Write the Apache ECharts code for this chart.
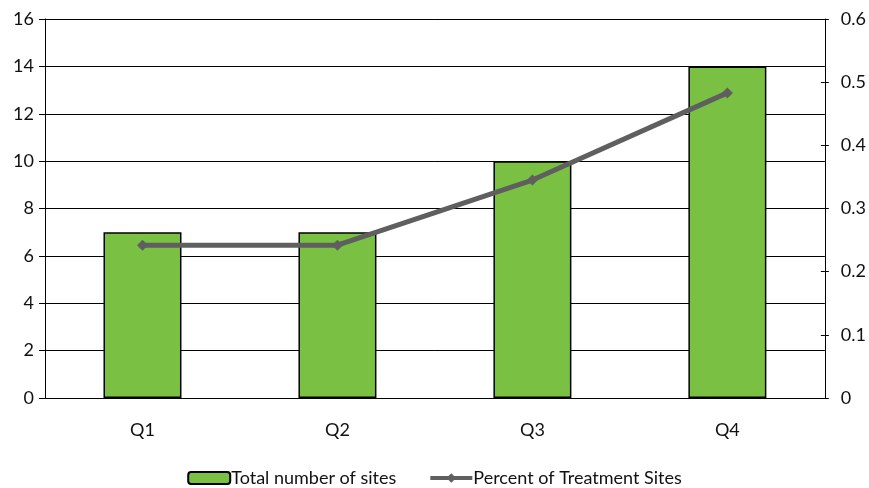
<!DOCTYPE html>
<html>
<head>
<meta charset="utf-8">
<script src="https://cdn.jsdelivr.net/npm/echarts@6/dist/echarts.min.js"></script>
<style>
  html, body { margin: 0; padding: 0; background: #fff; }
  #chart { width: 869px; height: 488px; }
</style>
</head>
<body>
<div id="chart"></div>
<script>
// Quarterly site counts and treatment share
const quarters = ['Q1', 'Q2', 'Q3', 'Q4'];
const totalSites = [7, 7, 10, 14];
const percentTreatment = [0.242, 0.242, 0.345, 0.483];

const FONT = 'Lato, "DejaVu Sans", sans-serif';
const labelStyle = { color: '#111', fontSize: 18, fontFamily: FONT };

const chart = echarts.init(document.getElementById('chart'));
chart.setOption({
  animation: false,
  grid: { left: 45, right: 43, top: 19, bottom: 90, containLabel: false },
  legend: {
    top: 464,
    left: 'center',
    itemGap: 32,
    itemWidth: 42,
    itemHeight: 12,
    textStyle: { color: '#111', fontSize: 18, fontFamily: FONT, padding: [0, 0, 0, -4] },
    data: [
      { name: 'Total number of sites', itemStyle: { borderWidth: 2 } },
      { name: 'Percent of Treatment Sites', lineStyle: { width: 4 } }
    ]
  },
  xAxis: {
    type: 'category',
    data: quarters,
    axisLine: { lineStyle: { color: '#000', width: 1 } },
    axisTick: { show: false },
    axisLabel: { ...labelStyle, margin: 23 }
  },
  yAxis: [
    {
      type: 'value',
      min: 0, max: 16, interval: 2,
      axisLine: { show: true, lineStyle: { color: '#000', width: 1 } },
      axisTick: { show: true, length: 6, lineStyle: { color: '#000' } },
      splitLine: { show: true, lineStyle: { color: '#000', width: 1 } },
      axisLabel: { ...labelStyle, margin: 11 }
    },
    {
      type: 'value',
      position: 'right',
      min: 0, max: 0.6, interval: 0.1,
      axisLine: { show: true, lineStyle: { color: '#000', width: 1 } },
      axisTick: { show: true, length: 4, lineStyle: { color: '#000' } },
      splitLine: { show: false },
      axisLabel: { ...labelStyle, margin: 16 }
    },
    {
      // inner half of the crossing ticks on the right axis
      type: 'value',
      position: 'right',
      min: 0, max: 0.6, interval: 0.1,
      axisLine: { show: false },
      axisTick: { show: true, inside: true, length: 4, lineStyle: { color: '#000' } },
      splitLine: { show: false },
      axisLabel: { show: false }
    }
  ],
  series: [
    {
      name: 'Total number of sites',
      type: 'bar',
      data: totalSites,
      barWidth: '40%',
      itemStyle: { color: '#7ac143', borderColor: '#000', borderWidth: 1.5 }
    },
    {
      name: 'Percent of Treatment Sites',
      type: 'line',
      yAxisIndex: 1,
      data: percentTreatment,
      symbol: 'diamond',
      symbolSize: 11,
      lineStyle: { color: '#5f5f5f', width: 5 },
      itemStyle: { color: '#5f5f5f' }
    }
  ]
});
</script>
</body>
</html>
